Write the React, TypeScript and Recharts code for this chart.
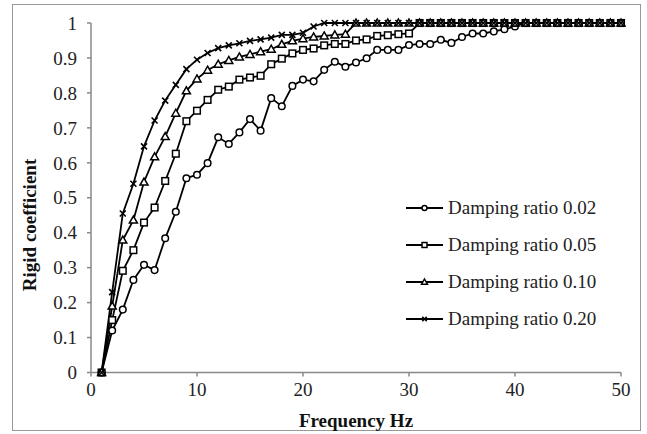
import React from 'react';
import { LineChart, Line, XAxis, YAxis, Legend } from 'recharts';

const freq = [1, 2, 3, 4, 5, 6, 7, 8, 9, 10, 11, 12, 13, 14, 15, 16, 17, 18, 19, 20, 21, 22, 23, 24, 25, 26, 27, 28, 29, 30, 31, 32, 33, 34, 35, 36, 37, 38, 39, 40, 41, 42, 43, 44, 45, 46, 47, 48, 49, 50];

const ratio002 = [0, 0.12, 0.18, 0.265, 0.308, 0.293, 0.384, 0.46, 0.556, 0.566, 0.599, 0.673, 0.654, 0.687, 0.725, 0.692, 0.785, 0.762, 0.82, 0.838, 0.833, 0.866, 0.889, 0.875, 0.887, 0.899, 0.923, 0.923, 0.923, 0.937, 0.94, 0.94, 0.952, 0.943, 0.96, 0.97, 0.97, 0.976, 0.982, 0.99, 1, 1, 1, 1, 1, 1, 1, 1, 1, 1];
const ratio005 = [0, 0.15, 0.291, 0.35, 0.429, 0.472, 0.548, 0.626, 0.719, 0.749, 0.78, 0.809, 0.818, 0.838, 0.844, 0.849, 0.882, 0.898, 0.913, 0.923, 0.927, 0.936, 0.94, 0.94, 0.95, 0.953, 0.963, 0.965, 0.968, 0.97, 1, 1, 1, 1, 1, 1, 1, 1, 1, 1, 1, 1, 1, 1, 1, 1, 1, 1, 1, 1];
const ratio010 = [0, 0.19, 0.379, 0.436, 0.545, 0.617, 0.675, 0.742, 0.806, 0.84, 0.865, 0.882, 0.893, 0.903, 0.91, 0.918, 0.925, 0.939, 0.949, 0.955, 0.96, 0.963, 0.966, 0.968, 1, 1, 1, 1, 1, 1, 1, 1, 1, 1, 1, 1, 1, 1, 1, 1, 1, 1, 1, 1, 1, 1, 1, 1, 1, 1];
const ratio020 = [0, 0.23, 0.455, 0.54, 0.647, 0.721, 0.778, 0.823, 0.868, 0.895, 0.914, 0.928, 0.936, 0.942, 0.949, 0.953, 0.958, 0.966, 0.966, 0.972, 0.99, 1, 1, 1, 1, 1, 1, 1, 1, 1, 1, 1, 1, 1, 1, 1, 1, 1, 1, 1, 1, 1, 1, 1, 1, 1, 1, 1, 1, 1];

const xTicks = [0, 10, 20, 30, 40, 50];
const yTicks = [0, 0.1, 0.2, 0.3, 0.4, 0.5, 0.6, 0.7, 0.8, 0.9, 1];

const seriesNames = ['Damping ratio 0.02', 'Damping ratio 0.05', 'Damping ratio 0.10', 'Damping ratio 0.20'];
const seriesKeys = ['r002', 'r005', 'r010', 'r020'];
const seriesMarkers = ['circle', 'square', 'triangle', 'cross'];

const data = freq.map((f, i) => ({
  f,
  r002: ratio002[i],
  r005: ratio005[i],
  r010: ratio010[i],
  r020: ratio020[i],
}));

const FONT = '"Liberation Serif", "Times New Roman", serif';

function Marker({ kind, cx, cy, s = 1 }: { kind: string; cx: number; cy: number; s?: number }) {
  if (cx == null || cy == null) return null;
  const sw = 1.5;
  if (kind === 'circle') {
    return <circle cx={cx} cy={cy} r={3.3 * s} fill="#fff" stroke="#000" strokeWidth={sw} />;
  }
  if (kind === 'square') {
    const h = 3.3 * s;
    return <rect x={cx - h} y={cy - h} width={2 * h} height={2 * h} fill="#fff" stroke="#000" strokeWidth={sw} />;
  }
  if (kind === 'triangle') {
    return (
      <polygon
        points={`${cx},${cy - 4 * s} ${cx + 4 * s},${cy + 3 * s} ${cx - 4 * s},${cy + 3 * s}`}
        fill="#fff"
        stroke="#000"
        strokeWidth={sw}
      />
    );
  }
  const c = 3 * s;
  return (
    <g stroke="#000" strokeWidth={1.6}>
      <line x1={cx - c} y1={cy - c} x2={cx + c} y2={cy + c} />
      <line x1={cx - c} y1={cy + c} x2={cx + c} y2={cy - c} />
    </g>
  );
}

function LegendContent() {
  return (
    <div style={{ fontFamily: FONT, fontSize: 19, color: '#222', textAlign: 'left' }}>
      {seriesNames.map((name, i) => (
        <div key={name} style={{ display: 'flex', alignItems: 'center', height: 37 }}>
          <svg width={40} height={12} style={{ marginRight: 3 }}>
            <line x1={1} y1={6} x2={38} y2={6} stroke="#000" strokeWidth={1.8} />
            <Marker kind={seriesMarkers[i]} cx={19.5} cy={6} s={0.75} />
          </svg>
          <span>{name}</span>
        </div>
      ))}
    </div>
  );
}

const fmt = (v: number) => String(Number(v.toFixed(1)));

export default function App() {
  return (
    <div style={{ position: 'absolute', left: 0, top: 0, width: 647, height: 434, background: '#fff' }}>
      <div
        style={{
          position: 'absolute',
          left: 12,
          top: 4,
          width: 629,
          height: 427,
          border: '1.5px solid #999',
          boxSizing: 'border-box',
        }}
      />
      <LineChart width={647} height={434} data={data} margin={{ top: 23, right: 26, bottom: 0, left: 0 }}>
        <XAxis
          dataKey="f"
          type="number"
          domain={[0, 50]}
          ticks={xTicks}
          interval={0}
          stroke="#888"
          strokeWidth={1.5}
          tickSize={4}
          tickMargin={6}
          height={61.5}
          tick={{ fill: '#222', fontSize: 19, fontFamily: FONT }}
          label={{
            content: (props: any) => {
              const vb = props.viewBox;
              return (
                <text
                  x={vb.x + vb.width / 2}
                  y={427}
                  textAnchor="middle"
                  fontFamily={FONT}
                  fontSize={19}
                  fontWeight="bold"
                  fill="#111"
                >
                  Frequency Hz
                </text>
              );
            },
          }}
        />
        <YAxis
          type="number"
          domain={[0, 1]}
          ticks={yTicks}
          interval={0}
          tickFormatter={fmt}
          width={91}
          stroke="#888"
          strokeWidth={1.5}
          tickSize={4}
          tickMargin={10}
          tick={{ fill: '#222', fontSize: 19, fontFamily: FONT }}
          label={{
            content: () => (
              <text
                x={0}
                y={0}
                transform="translate(36,225) rotate(-90)"
                textAnchor="middle"
                fontFamily={FONT}
                fontSize={19}
                fontWeight="bold"
                fill="#111"
              >
                Rigid coefficient
              </text>
            ),
          }}
        />
        <Legend
          layout="horizontal"
          verticalAlign="middle"
          align="center"
          content={<LegendContent />}
          wrapperStyle={{ left: 405, top: 189, width: 230 }}
        />
        {seriesKeys.map((k, i) => (
          <Line
            key={k}
            dataKey={k}
            name={seriesNames[i]}
            stroke="#000"
            strokeWidth={1.8}
            isAnimationActive={false}
            dot={(p: any) => <Marker key={`${k}-${p.index}`} kind={seriesMarkers[i]} cx={p.cx} cy={p.cy} />}
            activeDot={false}
          />
        ))}
      </LineChart>
    </div>
  );
}
